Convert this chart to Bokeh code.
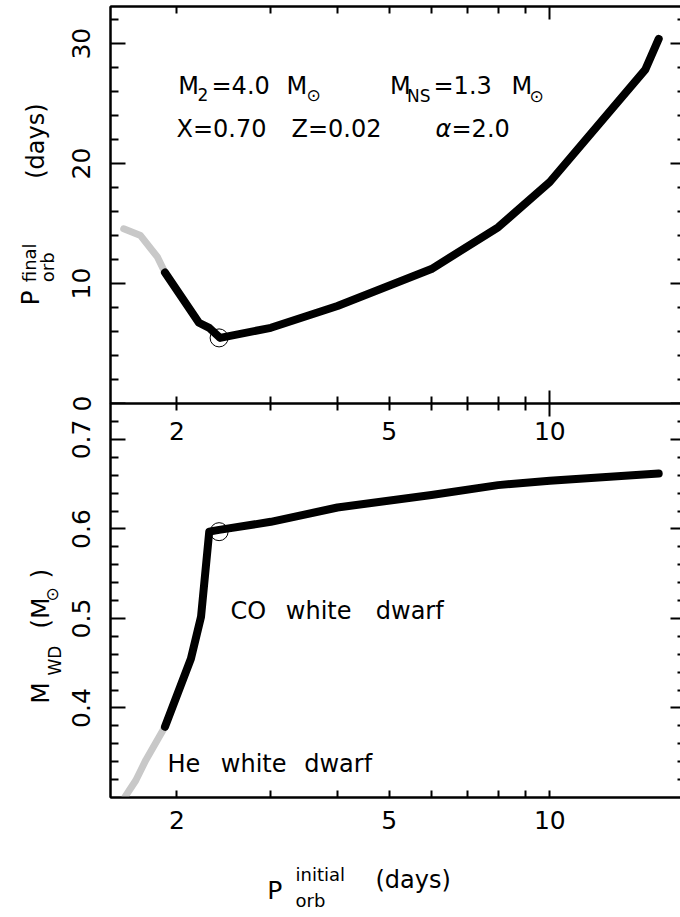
import math
from bokeh.plotting import figure
from bokeh.models import (Range1d, FixedTicker, LinearAxis, Label, LabelSet, ColumnDataSource,
                          CustomJSTickFormatter)
from bokeh.core.properties import value
from bokeh.layouts import column, row
from bokeh.embed import file_html
from bokeh.resources import INLINE

FONT = "DejaVu Sans"

# ---------------- data ----------------
top_grey_x = [1.59, 1.71, 1.84, 1.90]
top_grey_y = [14.56, 14.0, 12.2, 10.92]
top_black_x = [1.90, 2.20, 2.30, 2.41, 3.0, 4.0, 6.0, 8.0, 10.0, 15.1, 16.0]
top_black_y = [10.92, 6.73, 6.31, 5.47, 6.31, 8.13, 11.21, 14.69, 18.47, 27.83, 30.40]

bot_grey_x = [1.60, 1.675, 1.75, 1.90]
bot_grey_y = [0.301, 0.319, 0.342, 0.379]
bot_black_x = [1.90, 2.125, 2.22, 2.30, 2.40, 3.0, 4.0, 6.0, 8.0, 10.0, 16.0]
bot_black_y = [0.379, 0.455, 0.502, 0.597, 0.599, 0.608, 0.624, 0.638, 0.649, 0.654, 0.662]

mark_x = [2.4]
mark_top_y = [5.47]
mark_bot_y = [0.597]

x_labels_major = [2, 5, 10]
x_labels_minor = [3, 4, 6, 7, 8, 9]
x_long_major = [10]
x_short_minor = [2, 3, 4, 5, 6, 7, 8, 9]

top_y_major = [0, 10, 20, 30]
top_y_minor = [v for v in range(2, 33, 2) if v % 10 != 0]
bot_y_major = [0.4, 0.5, 0.6, 0.7]
bot_y_minor = [round(0.30 + 0.02 * i, 2) for i in range(1, 22)
               if round(0.30 + 0.02 * i, 2) not in (0.4, 0.5, 0.6, 0.7)]

X_RANGE = (1.502, 17.73)
TOP_RANGE = (0.0, 33.1)
BOT_RANGE = (0.30, 0.7402)

GREY = "#c8c8c8"
MAIN_W = 618
LEFT_W = 64
HALF = math.pi / 2
OVER = 14          # how far the upper canvas reaches under the lower one

BLANK = CustomJSTickFormatter(code="return ''")


def make_fig(height, yr, b_top, b_bottom, **kw):
    p = figure(width=MAIN_W, height=height, x_axis_type="log", x_axis_location=None,
               y_axis_location=None, x_range=Range1d(*X_RANGE), y_range=Range1d(*yr),
               output_backend="svg", toolbar_location=None,
               min_border_left=46, min_border_right=0,
               min_border_top=b_top, min_border_bottom=b_bottom, **kw)
    p.outline_line_color = "black"
    p.outline_line_width = 2
    p.xgrid.visible = False
    p.ygrid.visible = False
    p.background_fill_color = "white"
    return p


def style_axis(ax, major_in, minor_in, labels=False, size="25px", standoff=0):
    ax.axis_line_color = "black"
    ax.axis_line_width = 2
    ax.major_tick_line_width = 2
    ax.minor_tick_line_width = 2
    ax.major_tick_in = major_in
    ax.major_tick_out = 0
    ax.minor_tick_in = minor_in
    ax.minor_tick_out = 0
    ax.major_label_text_font = FONT
    ax.major_label_text_color = "black"
    if labels:
        ax.major_label_text_font_size = size
        ax.major_label_standoff = standoff
    else:
        ax.formatter = BLANK
        ax.major_label_text_font_size = "0px"
        ax.major_label_standoff = 0
    return ax


def x_plain_axis():
    ax = LinearAxis(ticker=FixedTicker(ticks=x_long_major, minor_ticks=x_short_minor))
    return style_axis(ax, 13, 7)


def lab(p, text, sx, sy, size_px, angle=0.0, style="normal"):
    # compensate the baseline offset of Label boxes
    k = 0.34 * size_px
    if angle == 0.0:
        sy += k
    else:
        sx -= k
    p.add_layout(Label(x=sx, y=sy, x_units="screen", y_units="screen", text=text,
                       text_font=FONT, text_font_size=f"{size_px}px", text_color="black",
                       text_font_style=style,
                       text_align="left", text_baseline="alphabetic", angle=angle))


def blank_fig(w, h):
    f = figure(width=w, height=h, x_range=Range1d(0, w), y_range=Range1d(0, h),
               x_axis_location=None, y_axis_location=None, output_backend="svg",
               toolbar_location=None, min_border=0)
    f.outline_line_color = None
    f.xgrid.visible = False
    f.ygrid.visible = False
    return f


# ---------------- top panel ----------------
top = make_fig(403 + OVER, TOP_RANGE, 6, OVER, margin=(0, 0, -OVER, 0))
top.border_fill_color = "white"
top.add_layout(x_plain_axis(), "above")
top.add_layout(x_plain_axis(), "below")
yl = LinearAxis(ticker=FixedTicker(ticks=top_y_major, minor_ticks=top_y_minor))
style_axis(yl, 15, 8, labels=True, standoff=20)
yl.major_label_orientation = "vertical"
top.add_layout(yl, "left")
yr = LinearAxis(ticker=FixedTicker(ticks=top_y_major, minor_ticks=top_y_minor))
style_axis(yr, 12, 5)
top.add_layout(yr, "right")

top.line(top_grey_x, top_grey_y, line_color=GREY, line_width=7, line_cap="round", line_join="round")
top.line(top_black_x, top_black_y, line_color="black", line_width=8, line_cap="round", line_join="round")
top.scatter(mark_x, mark_top_y, marker="circle", size=18, fill_color=None, line_color="black", line_width=1)

lab(top, "M", 67.7, 309.7, 24)
lab(top, "2", 87, 303, 17)
lab(top, "=4.0", 101, 309.7, 24)
lab(top, "M", 176, 309.7, 24)
lab(top, "\u2299", 196, 303, 17)
lab(top, "M", 279.5, 309.7, 24)
lab(top, "NS", 296.5, 302, 17)
lab(top, "=1.3", 323, 309.7, 24)
lab(top, "M", 401, 309.7, 24)
lab(top, "\u2299", 419, 302, 17)
lab(top, "X=0.70", 66, 266.3, 24)
lab(top, "Z=0.02", 181, 266.3, 24)
lab(top, "\u03b1", 325, 266.3, 24, style="italic")
lab(top, "=2.0", 341, 266.3, 24)

# ---------------- bottom panel ----------------
bot = make_fig(444, BOT_RANGE, 0, 50)
bot.border_fill_color = None
bot.add_layout(x_plain_axis(), "above")
xb = LinearAxis(ticker=FixedTicker(ticks=x_labels_major, minor_ticks=x_labels_minor))
style_axis(xb, 7, 7, labels=True, standoff=13)
xb.major_label_overrides = {2: "2", 5: "5", 10: "10"}
bot.add_layout(xb, "below")

yl2 = LinearAxis(ticker=FixedTicker(ticks=bot_y_major, minor_ticks=bot_y_minor))
style_axis(yl2, 15, 8, labels=True, standoff=20)
yl2.major_label_orientation = "vertical"
yl2.major_label_overrides = {0.4: "0.4", 0.5: "0.5", 0.6: "0.6", 0.7: "0.7"}
bot.add_layout(yl2, "left")
yr2 = LinearAxis(ticker=FixedTicker(ticks=bot_y_major, minor_ticks=bot_y_minor))
style_axis(yr2, 12, 5)
bot.add_layout(yr2, "right")

bot.line(bot_grey_x, bot_grey_y, line_color=GREY, line_width=7, line_cap="round", line_join="round")
bot.line(bot_black_x, bot_black_y, line_color="black", line_width=8, line_cap="round", line_join="round")
bot.scatter(mark_x, mark_bot_y, marker="circle", size=18, fill_color=None, line_color="black", line_width=1)

# tick labels of the shared axis, drawn just inside the lower panel
src = ColumnDataSource(dict(x=x_labels_major, t=[str(v) for v in x_labels_major]))
bot.add_layout(LabelSet(x="x", y=358, y_units="screen", text="t", source=src,
                        text_font=value(FONT), text_font_size=value("25px"), text_color="black",
                        text_align="center", text_baseline="alphabetic"))

lab(bot, "CO", 120, 178.7, 24)
lab(bot, "white", 175.3, 178.7, 24)
lab(bot, "dwarf", 265.3, 178.7, 24)
lab(bot, "He", 57, 25.3, 24)
lab(bot, "white", 110.3, 25.3, 24)
lab(bot, "dwarf", 193.7, 25.3, 24)

# ---------------- axis titles ----------------
TOTAL_H = 403 + 444 + 65
yt = blank_fig(LEFT_W, TOTAL_H)
lab(yt, "P", 38.3, 607, 25, HALF)
lab(yt, "final", 35, 630.3, 18, HALF)
lab(yt, "orb", 53.3, 630.3, 18, HALF)
lab(yt, "(days)", 44, 733.7, 24, HALF)
lab(yt, "M", 48.3, 208.7, 25, HALF)
lab(yt, "WD", 60.5, 237, 17, HALF)
lab(yt, "(M", 48.3, 283.7, 25, HALF)
lab(yt, "\u2299", 57, 311, 17, HALF)
lab(yt, ")", 48.3, 334, 25, HALF)

xt = blank_fig(MAIN_W, 65)
lab(xt, "P", 158.7 - 2, 13.7, 25)
lab(xt, "initial", 187 - 2, 32, 18)
lab(xt, "orb", 187 - 2, 6, 18)
lab(xt, "(days)", 267 - 2, 24, 24)

layout = row(yt, column(top, bot, xt, spacing=0), spacing=0)
open("out.html", "w").write(file_html(layout, INLINE))
